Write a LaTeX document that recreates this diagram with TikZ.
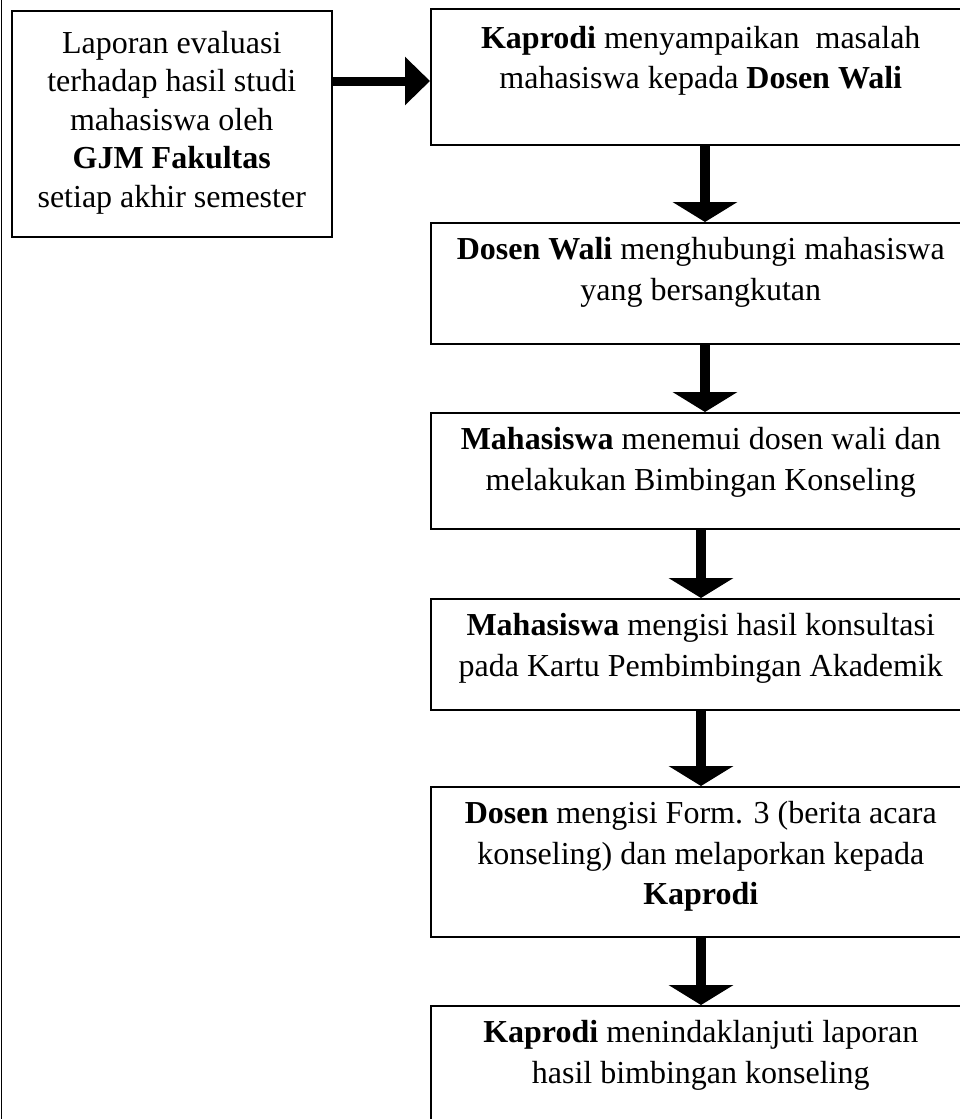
\documentclass[tikz,border=0pt]{standalone}
\usepackage{fontspec}
\setmainfont{Liberation Serif}
\usetikzlibrary{arrows.meta}
\begin{document}
\begin{tikzpicture}[x=1pt,y=-1pt,
  box/.style={draw=black, line width=1.5pt, rectangle, inner sep=0pt, anchor=north west},
  rbox/.style={box, minimum width=540pt},
  txt/.style={align=center, anchor=north, inner sep=0pt, font=\fontsize{32}{40.5}\selectfont},
  ltxt/.style={align=center, anchor=north, inner sep=0pt, font=\fontsize{32}{38.5}\selectfont},
  flow/.style={line width=10pt, -{Triangle[width=64pt,length=20pt]}},
  hflow/.style={line width=9pt, -{Triangle[width=47pt,length=25pt]}}]
\useasboundingbox (0,0) rectangle (960,1119);
\clip (0,0) rectangle (960,1119);
\draw[line width=1.5pt] (1.5,0) -- (1.5,1119);
% boxes
\node[box, minimum width=320pt, minimum height=226pt] (lb) at (11,10) {};
\node[rbox, minimum height=136pt] (b1) at (430,8) {};
\node[rbox, minimum height=121pt] (b2) at (430,222) {};
\node[rbox, minimum height=116pt] (b3) at (430,412) {};
\node[rbox, minimum height=111pt] (b4) at (430,598) {};
\node[rbox, minimum height=150pt] (b5) at (430,786) {};
\node[rbox, minimum height=150pt] (b6) at (430,1005) {};
% texts
\node[ltxt] (lt) at ([yshift=-16pt]lb.north) {\strut Laporan evaluasi\\ terhadap hasil studi\\ mahasiswa oleh\\ \textbf{GJM Fakultas}\\ setiap akhir semester};
\node[txt] (t1) at ([yshift=-11.6pt]b1.north) {\strut\textbf{Kaprodi} menyampaikan~ masalah\\ mahasiswa kepada \textbf{Dosen Wali}};
\node[txt] (t2) at ([yshift=-9.2pt]b2.north) {\strut\textbf{Dosen Wali} menghubungi mahasiswa\\ yang bersangkutan};
\node[txt] (t3) at ([yshift=-9.2pt]b3.north) {\strut\textbf{Mahasiswa} menemui dosen wali dan\\ melakukan Bimbingan Konseling};
\node[txt] (t4) at ([yshift=-9.2pt]b4.north) {\strut\textbf{Mahasiswa} mengisi hasil konsultasi\\ pada Kartu Pembimbingan Akademik};
\node[txt] (t5) at ([yshift=-9.2pt]b5.north) {\strut\textbf{Dosen} mengisi Form. 3 (berita acara\\ konseling) dan melaporkan kepada\\ \textbf{Kaprodi}};
\node[txt] (t6) at ([yshift=-9.2pt]b6.north) {\strut\textbf{Kaprodi} menindaklanjuti laporan\\ hasil bimbingan konseling};
% connectors
\coordinate (ha) at (0,81);
\coordinate (ax1) at (705,0);
\coordinate (ax2) at (701,0);
\draw[hflow] (lb.east |- ha) -- (b1.west |- ha);
\draw[flow] (b1.south -| ax1) -- (b2.north -| ax1);
\draw[flow] (b2.south -| ax1) -- (b3.north -| ax1);
\draw[flow] (b3.south -| ax2) -- (b4.north -| ax2);
\draw[flow] (b4.south -| ax2) -- (b5.north -| ax2);
\draw[flow] (b5.south -| ax2) -- (b6.north -| ax2);
\end{tikzpicture}
\end{document}
